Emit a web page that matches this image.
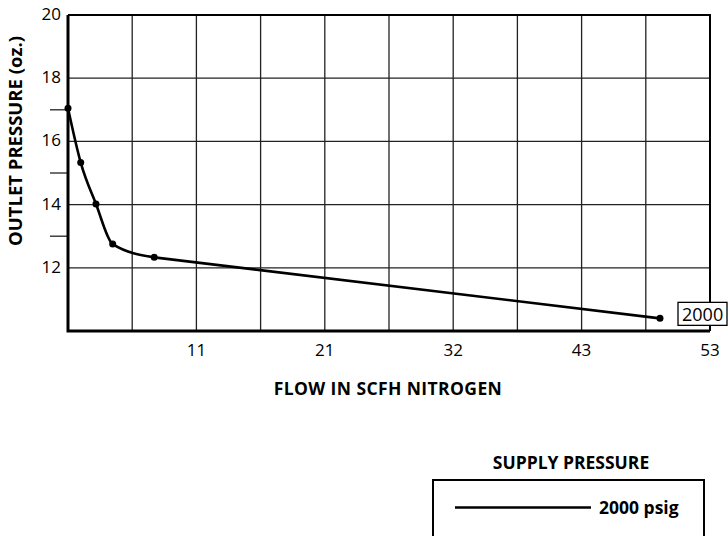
<!DOCTYPE html>
<html>
<head>
<meta charset="utf-8">
<script src="https://cdn.jsdelivr.net/npm/d3@7"></script>
<style>
  html, body { margin: 0; padding: 0; background: #fff; }
  svg { display: block; font-family: "Open Sans", sans-serif; }
</style>
</head>
<body>
<div id="chart"></div>
<script>
// values
const flow = [0, 1.05, 2.31, 3.69, 7.12, 48.87];
const outletPressure = [17.05, 15.33, 14.02, 12.75, 12.33, 10.4];
const seriesName = "2000";
const legendLabel = "2000 psig";

const xGridValues = d3.range(1, 11).map((i) => i * 5.3);
const xTickValues = [10.6, 21.2, 31.8, 42.4, 53];
const xTickLabels = ["11", "21", "32", "43", "53"];
const yTickValues = [12, 14, 16, 18, 20];
const yMinorTicks = [13, 15, 17];

const width = 728;
const height = 536;
const margin = { top: 15, right: 18, bottom: 205, left: 68 };

const svg = d3
  .select("#chart")
  .append("svg")
  .attr("width", width)
  .attr("height", height);

const x = d3
  .scaleLinear()
  .domain([0, 53])
  .range([margin.left, width - margin.right]);

const y = d3
  .scaleLinear()
  .domain([10, 20])
  .range([height - margin.bottom, margin.top]);

// grid
svg
  .append("g")
  .selectAll("line")
  .data(xGridValues)
  .join("line")
  .attr("x1", (d) => x(d))
  .attr("x2", (d) => x(d))
  .attr("y1", y(10))
  .attr("y2", y(20))
  .attr("stroke", "#222")
  .attr("stroke-width", 1.3);

svg
  .append("g")
  .selectAll("line")
  .data(yTickValues)
  .join("line")
  .attr("x1", x(0))
  .attr("x2", x(53))
  .attr("y1", (d) => y(d))
  .attr("y2", (d) => y(d))
  .attr("stroke", "#222")
  .attr("stroke-width", 1.3);

// odd ticks sticking out on the left
svg
  .append("g")
  .selectAll("line")
  .data(yMinorTicks)
  .join("line")
  .attr("x1", x(0) - 18)
  .attr("x2", x(0))
  .attr("y1", (d) => y(d))
  .attr("y2", (d) => y(d))
  .attr("stroke", "#222")
  .attr("stroke-width", 1.3);

// frame: left and bottom heavier
svg
  .append("path")
  .attr("d", `M${x(0)},${y(20)}H${x(53)}V${y(10)}`)
  .attr("fill", "none")
  .attr("stroke", "#000")
  .attr("stroke-width", 2);
svg
  .append("path")
  .attr("d", `M${x(0)},${y(20)}V${y(10)}H${x(53)}`)
  .attr("fill", "none")
  .attr("stroke", "#000")
  .attr("stroke-width", 3);

// tick labels
svg
  .append("g")
  .selectAll("text")
  .data(yTickValues)
  .join("text")
  .attr("x", x(0) - 7)
  .attr("y", (d) => y(d) - 1)
  .attr("dy", "0.35em")
  .attr("text-anchor", "end")
  .attr("font-size", "17px")
  .text((d) => d);

svg
  .append("g")
  .selectAll("text")
  .data(xTickValues)
  .join("text")
  .attr("x", (d) => x(d))
  .attr("y", y(10) + 25)
  .attr("text-anchor", "middle")
  .attr("font-size", "17px")
  .text((d, i) => xTickLabels[i]);

// axis titles
svg
  .append("text")
  .attr("x", 388)
  .attr("y", 395)
  .attr("text-anchor", "middle")
  .attr("font-size", "17.5px")
  .attr("letter-spacing", "0.4px")
  .attr("font-weight", "bold")
  .text("FLOW IN SCFH NITROGEN");

svg
  .append("text")
  .attr("transform", "translate(22,141) rotate(-90)")
  .attr("text-anchor", "middle")
  .attr("font-size", "18.5px")
  .attr("font-weight", "bold")
  .text("OUTLET PRESSURE (oz.)");

// series: smooth bend through the first points, long straight-ish run to the last
const points = flow.map((f, i) => [f, outletPressure[i]]);
const split = points.length - 2;

const bend = d3
  .line()
  .x((d) => x(d[0]))
  .y((d) => y(d[1]))
  .curve(d3.curveMonotoneX);

const run = d3
  .line()
  .x((d) => x(d[0]))
  .y((d) => y(d[1]));

svg
  .append("path")
  .attr("d", bend(points.slice(0, split + 1)) + run(points.slice(split)).replace(/^M/, "L"))
  .attr("fill", "none")
  .attr("stroke", "#000")
  .attr("stroke-width", 2.6)
  .attr("stroke-linejoin", "round");

svg
  .append("g")
  .selectAll("circle")
  .data(points)
  .join("circle")
  .attr("cx", (d) => x(d[0]))
  .attr("cy", (d) => y(d[1]))
  .attr("r", 3.5)
  .attr("fill", "#000");

// end label box
const last = points[points.length - 1];
const lab = svg.append("g").attr("transform", `translate(${x(53) - 32},${y(last[1]) - 7})`);
lab
  .append("rect")
  .attr("x", 0)
  .attr("y", -9)
  .attr("width", 49)
  .attr("height", 23)
  .attr("fill", "#fff")
  .attr("stroke", "#000")
  .attr("stroke-width", 1.3);
lab
  .append("text")
  .attr("x", 4)
  .attr("y", 9.5)
  .attr("font-size", "18px")
  .text(seriesName);

// legend
svg
  .append("text")
  .attr("x", 571)
  .attr("y", 469)
  .attr("text-anchor", "middle")
  .attr("font-size", "17.5px")
  .attr("font-weight", "bold")
  .text("SUPPLY PRESSURE");

svg
  .append("rect")
  .attr("x", 433)
  .attr("y", 480)
  .attr("width", 271)
  .attr("height", 80)
  .attr("fill", "none")
  .attr("stroke", "#000")
  .attr("stroke-width", 2);

svg
  .append("line")
  .attr("x1", 455)
  .attr("x2", 591)
  .attr("y1", 507.5)
  .attr("y2", 507.5)
  .attr("stroke", "#000")
  .attr("stroke-width", 2.6);

svg
  .append("text")
  .attr("x", 599)
  .attr("y", 514)
  .attr("font-size", "17.5px")
  .attr("font-weight", "bold")
  .text(legendLabel);
</script>
</body>
</html>
